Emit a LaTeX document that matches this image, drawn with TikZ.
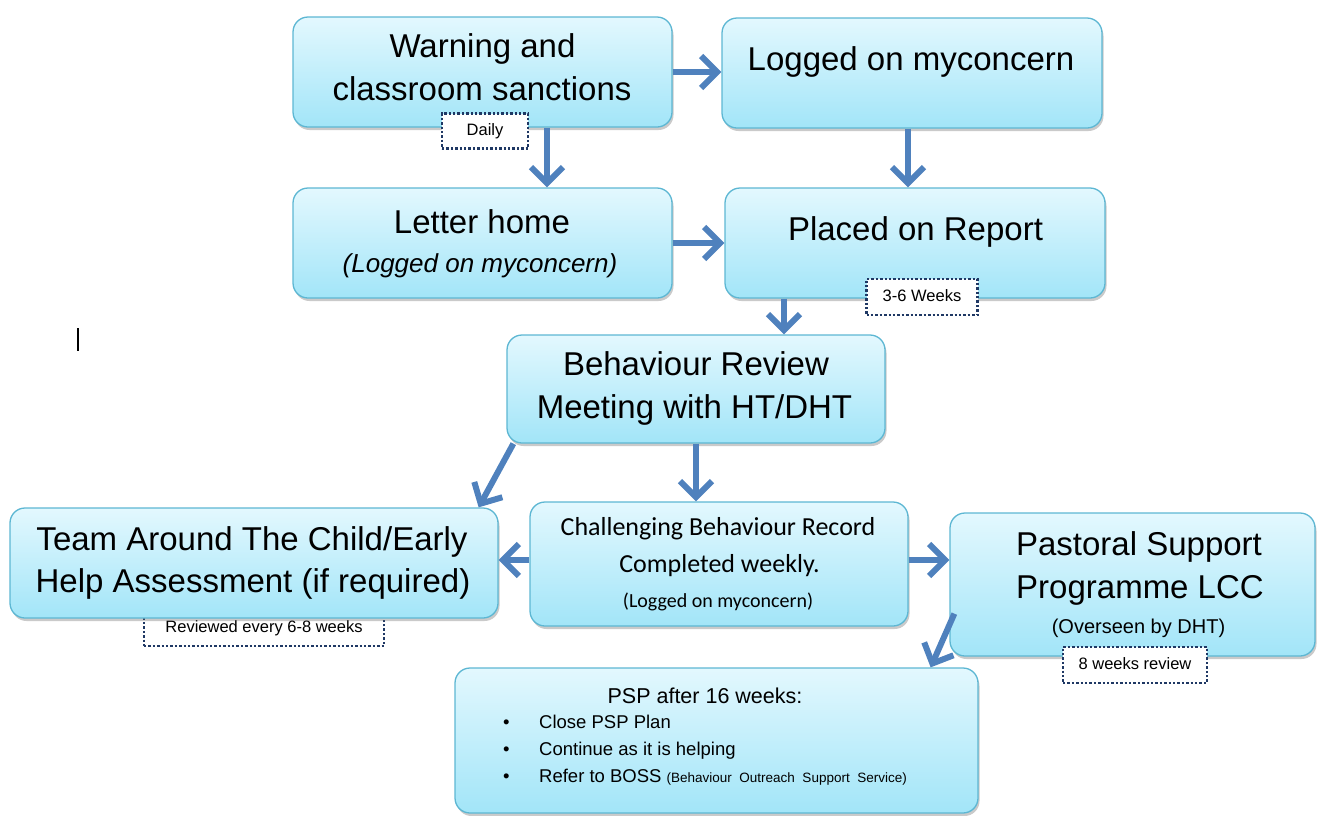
\documentclass[tikz,border=0pt]{standalone}
\usepackage{fontspec}
\setmainfont{Liberation Sans}
\newfontfamily\calibrifont{Carlito}
\usetikzlibrary{arrows.meta,shadows}

\definecolor{boxtop}{HTML}{E3F8FE}
\definecolor{boxbottom}{HTML}{A2E5F8}
\definecolor{boxline}{HTML}{5DB7D3}
\definecolor{flowblue}{HTML}{4F81BD}
\definecolor{tagline}{HTML}{1F3864}

\newcommand{\stagefont}{\fontsize{33}{40}\selectfont}
\newcommand{\notefont}{\fontsize{20}{24}\selectfont}
\newcommand{\tagfont}{\fontsize{16.5}{19}\selectfont}
\newcommand{\listfont}{\fontsize{18.5}{22}\selectfont}

\tikzset{
  stage/.style = {draw = boxline, line width = 1.3pt, rounded corners = 15pt,
    top color = boxtop, bottom color = boxbottom,
    drop shadow = {shadow xshift = 1.5pt, shadow yshift = -3pt, opacity = 0.35, fill = black!60},
    inner sep = 0pt},
  tag/.style = {draw = tagline, fill = white, line width = 2.6pt, dash pattern = on 2.4pt off 2pt,
    inner sep = 0pt, font = \tagfont, text height = 11.5pt, text depth = 3.4pt},
  flow/.style = {draw = flowblue, line width = 6pt, -{Straight Barb[length = 16pt, width = 32pt]}},
  txt/.style = {anchor = base, inner sep = 0pt, font = \stagefont},
  item/.style = {anchor = base west, inner sep = 0pt, font = \listfont}
}

\begin{document}
\begin{tikzpicture}[x = 1pt, y = -1pt]
    \useasboundingbox (0,0) rectangle (1317,815);

    \node[tag, minimum width = 240pt, minimum height = 36pt] (reviewtag) at (264,628) {Reviewed every 6-8 weeks};

    \node[stage, minimum width = 379pt, minimum height = 110pt] (warn) at (482.5,72) {};
    \node[stage, minimum width = 380pt, minimum height = 110pt] (logged) at (912,73) {};
    \node[stage, minimum width = 379pt, minimum height = 110pt] (letter) at (482.5,243) {};
    \node[stage, minimum width = 380pt, minimum height = 110pt] (placed) at (915,243) {};
    \node[stage, minimum width = 378pt, minimum height = 108pt] (review) at (696,389) {};
    \node[stage, minimum width = 488pt, minimum height = 110pt] (team) at (254,563) {};
    \node[stage, minimum width = 378pt, minimum height = 124pt] (record) at (719,564) {};
    \node[stage, minimum width = 365pt, minimum height = 143pt] (pastoral) at (1132.5,584.5) {};
    \node[stage, minimum width = 523pt, minimum height = 145pt] (psp) at (716.5,740.5) {};

    \node[tag, minimum width = 86pt, minimum height = 35pt] (dailytag) at (485,131) {Daily};
    \node[tag, minimum width = 111pt, minimum height = 36pt] (reporttag) at (922,297) {3-6 Weeks};
    \node[tag, minimum width = 144pt, minimum height = 36pt] (psptag) at (1135,665) {8 weeks review};

    \node[txt] (warnA) at (482.5,57) {Warning and};
    \node[txt] (warnB) at (482,100) {classroom sanctions};
    \node[txt] (loggedA) at (911,70) {Logged on myconcern};
    \node[txt] (letterA) at (482,233) {Letter home};
    \node[txt, font = \fontsize{26}{30}\selectfont\itshape] (letterB) at (480,272) {(Logged on myconcern)};
    \node[txt] (placedA) at (915.5,240) {Placed on Report};
    \node[txt] (reviewA) at (696,375) {Behaviour Review};
    \node[txt] (reviewB) at (694.5,418) {Meeting with HT/DHT};
    \node[txt] (teamA) at (252,550) {Team Around The Child/Early};
    \node[txt] (teamB) at (253,592) {Help Assessment (if required)};
    \node[txt, font = \fontsize{26}{30}\calibrifont] (recordA) at (718,535) {Challenging Behaviour Record};
    \node[txt, font = \fontsize{26}{30}\calibrifont] (recordB) at (719.5,572) {Completed weekly.};
    \node[txt, font = \fontsize{20}{24}\calibrifont] (recordC) at (718,607) {(Logged on myconcern)};
    \node[txt] (pastoralA) at (1139,555) {Pastoral Support};
    \node[txt] (pastoralB) at (1140,598) {Programme LCC};
    \node[txt, font = \notefont] (pastoralC) at (1138.5,633) {(Overseen by DHT)};
    \node[txt, font = \fontsize{21.5}{26}\selectfont] (pspA) at (705,703) {PSP after 16 weeks:};
    \node[item] (pspB) at (503,728) {\makebox[36pt][l]{•}Close PSP Plan};
    \node[item] (pspC) at (503,755) {\makebox[36pt][l]{•}Continue as it is helping};
    \node[item] (pspD) at (503,782) {\makebox[36pt][l]{•}Refer to BOSS {\fontsize{13.5}{15}\selectfont(Behaviour\ \ Outreach\ \ Support\ \ Service)}};

    \draw[flow] (warn.east) -- (warn.east -| logged.west);
    \draw[flow] ([xshift = 64.5pt]warn.south) -- ([xshift = 64.5pt]warn.south |- letter.north);
    \draw[flow] ([xshift = -4pt]logged.south) -- ([xshift = -4pt]logged.south |- placed.north);
    \draw[flow] (letter.east) -- (letter.east -| placed.west);
    \draw[flow] ([xshift = -131pt]placed.south) -- ([xshift = -131pt]placed.south |- review.north);
    \draw[flow] ([xshift = 7pt]review.south west) -- ([xshift = -20pt]team.north east);
    \draw[flow] (review.south) -- (review.south |- record.north);
    \draw[flow] ([yshift = 4pt]record.west) -- ([yshift = 4pt]record.west -| team.east);
    \draw[flow] ([yshift = 4pt]record.east) -- ([yshift = 4pt]record.east -| pastoral.west);
    \draw[flow] ([shift = {(5pt,43pt)}]pastoral.south west) -- ([xshift = -48pt]psp.north east);

    \draw[line width = 1.6pt] (78,328) -- (78,351);
\end{tikzpicture}
\end{document}
